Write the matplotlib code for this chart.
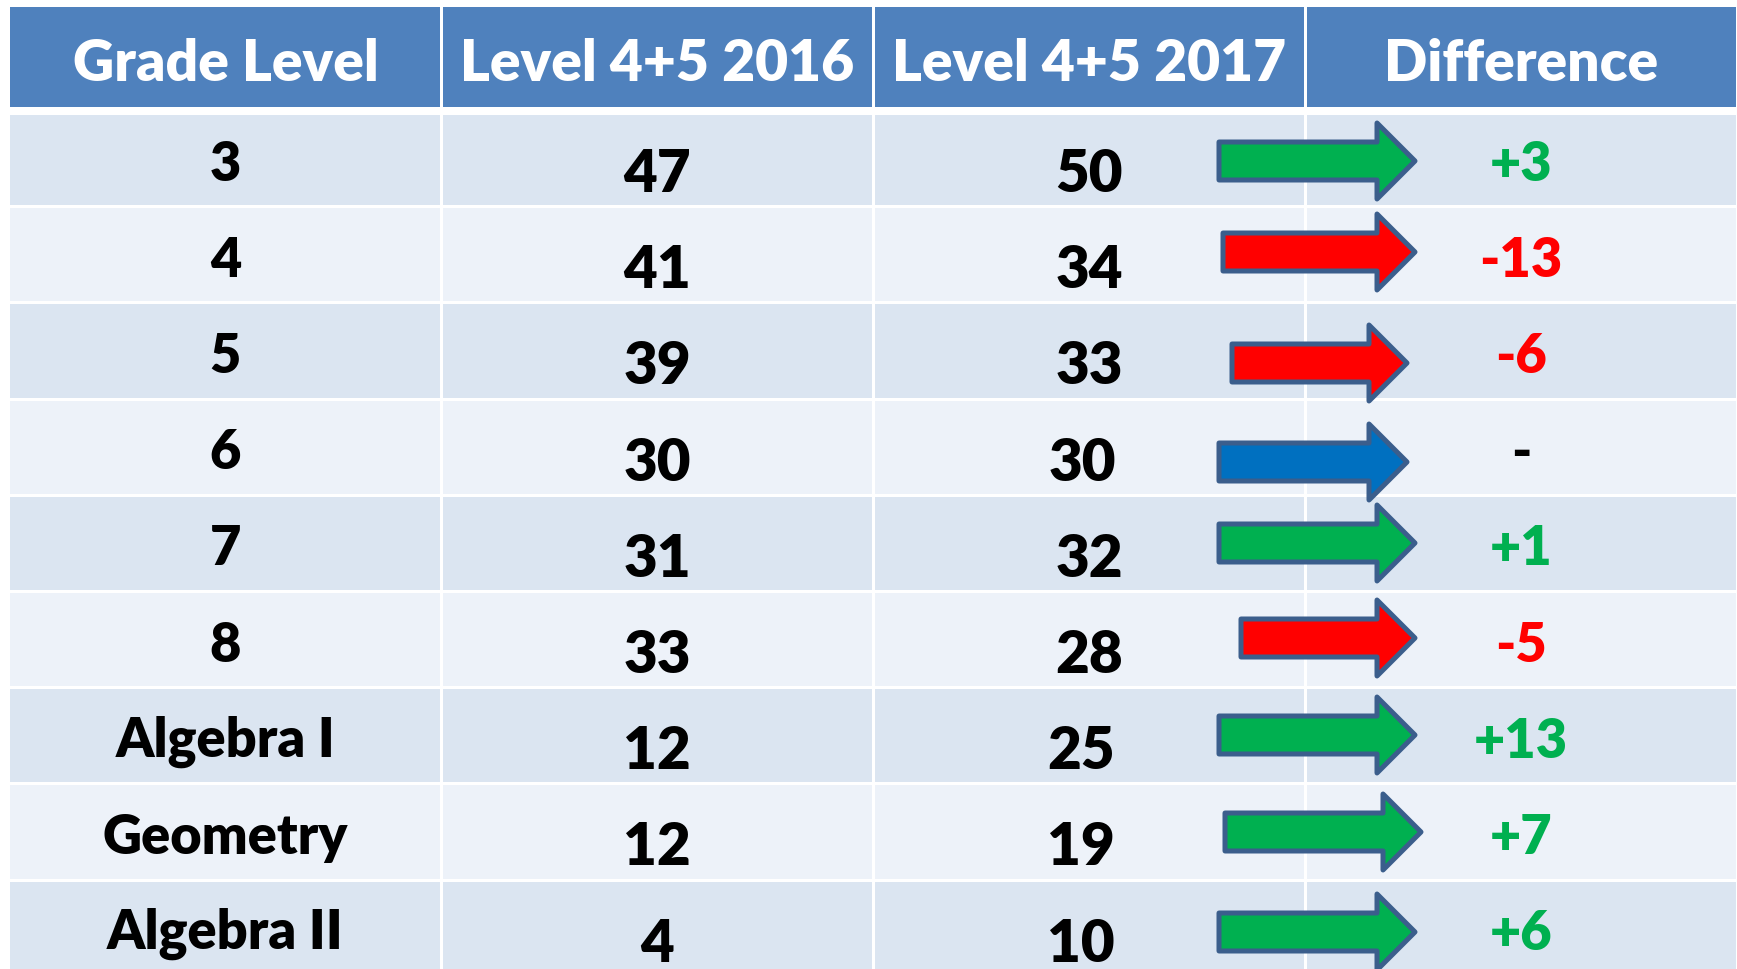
import numpy as np
import matplotlib.pyplot as plt
from matplotlib.patches import Rectangle, Polygon


########################################
#   Table data
########################################

headers = ["Grade Level", "Level 4+5 2016", "Level 4+5 2017", "Difference"]
grades = ["3", "4", "5", "6", "7", "8", "Algebra I", "Geometry", "Algebra II"]
pct2016 = [47, 41, 39, 30, 31, 33, 12, 12, 4]
pct2017 = [50, 34, 33, 30, 32, 28, 25, 19, 10]
# difference column as printed on the slide
diffs = [3, -13, -6, 0, 1, -5, 13, 7, 6]


########################################
#   Layout (pixels, top-left origin)
########################################

W, H = 1737, 970
colEdges = [10, 441, 873, 1305, 1737]
headTop, headBot = 8, 108
firstRowTop = 116
rowPitch = 96.2
rowStart = 113.0
gap = 3

# hand drawn arrows: tail x, tip x, centre y
arrowTail = [1219, 1223, 1232, 1219, 1219, 1241, 1219, 1225, 1219]
arrowTip = [1415, 1415, 1407, 1407, 1415, 1415, 1415, 1421, 1415]
arrowY = [162, 253, 364, 463, 544, 639, 736, 833, 933]
val17Shift = [0, 0, 0, -7, 0, 0, -8, -8, -8]

headColor = "#4F81BD"
rowColors = ["#DBE5F1", "#EDF2F9"]
edgeArrow = "#3B5E8C"
arrowColors = {1: "#00B050", -1: "#FF0000", 0: "#0070C0"}
textColors = {1: "#00B050", -1: "#FF0000", 0: "black"}

plt.rcParams['font.family'] = ['Lato', 'DejaVu Sans']
weight = 'heavy'

fig = plt.figure(figsize=(W / 100, H / 100), dpi=100)
ax = fig.add_axes([0, 0, 1, 1])
ax.set_xlim(0, W)
ax.set_ylim(H, 0)
ax.axis('off')

# Header
for j, name in enumerate(headers):
    x0 = colEdges[j] + (gap / 2 if j > 0 else 0)
    x1 = colEdges[j + 1] - gap / 2
    ax.add_patch(Rectangle((x0, headTop), x1 - x0, headBot - headTop, facecolor=headColor, edgecolor='none'))
    ax.text((colEdges[j] + colEdges[j + 1]) / 2, (headTop + headBot) / 2 + 6, name,
            ha='center', va='center', color='white', fontsize=41, fontweight=weight)

# Rows
for i in range(len(grades)):
    top = rowStart + i * rowPitch
    bot = top + rowPitch - gap
    if i == 0:
        top = firstRowTop
    cy = (rowStart + i * rowPitch + bot) / 2
    for j in range(4):
        x0 = colEdges[j] + (gap / 2 if j > 0 else 0)
        x1 = colEdges[j + 1] - gap / 2
        ax.add_patch(Rectangle((x0, top), x1 - x0, bot - top, facecolor=rowColors[i % 2], edgecolor='none'))

    centers = [(colEdges[j] + colEdges[j + 1]) / 2 for j in range(4)]
    ax.text(centers[0], cy + 5, grades[i], ha='center', va='center', fontsize=39, fontweight=weight)
    ax.text(centers[1], cy + 15, str(pct2016[i]), ha='center', va='center', fontsize=42, fontweight=weight)
    ax.text(centers[2] + val17Shift[i], cy + 15, str(pct2017[i]), ha='center', va='center', fontsize=42, fontweight=weight)

    s = int(np.sign(diffs[i]))
    label = "-" if diffs[i] == 0 else "{:+d}".format(diffs[i])
    ax.text(centers[3], cy + 5, label, ha='center', va='center', fontsize=39, fontweight=weight, color=textColors[s])

    # arrow
    x0, x1, y = arrowTail[i], arrowTip[i], arrowY[i]
    hs, hh, hl = 19, 38, 38
    pts = [(x0, y - hs), (x1 - hl, y - hs), (x1 - hl, y - hh), (x1, y),
           (x1 - hl, y + hh), (x1 - hl, y + hs), (x0, y + hs)]
    ax.add_patch(Polygon(pts, closed=True, facecolor=arrowColors[s], edgecolor=edgeArrow,
                         linewidth=3.6, joinstyle='round', zorder=3))

plt.savefig("out.png", dpi=100)
